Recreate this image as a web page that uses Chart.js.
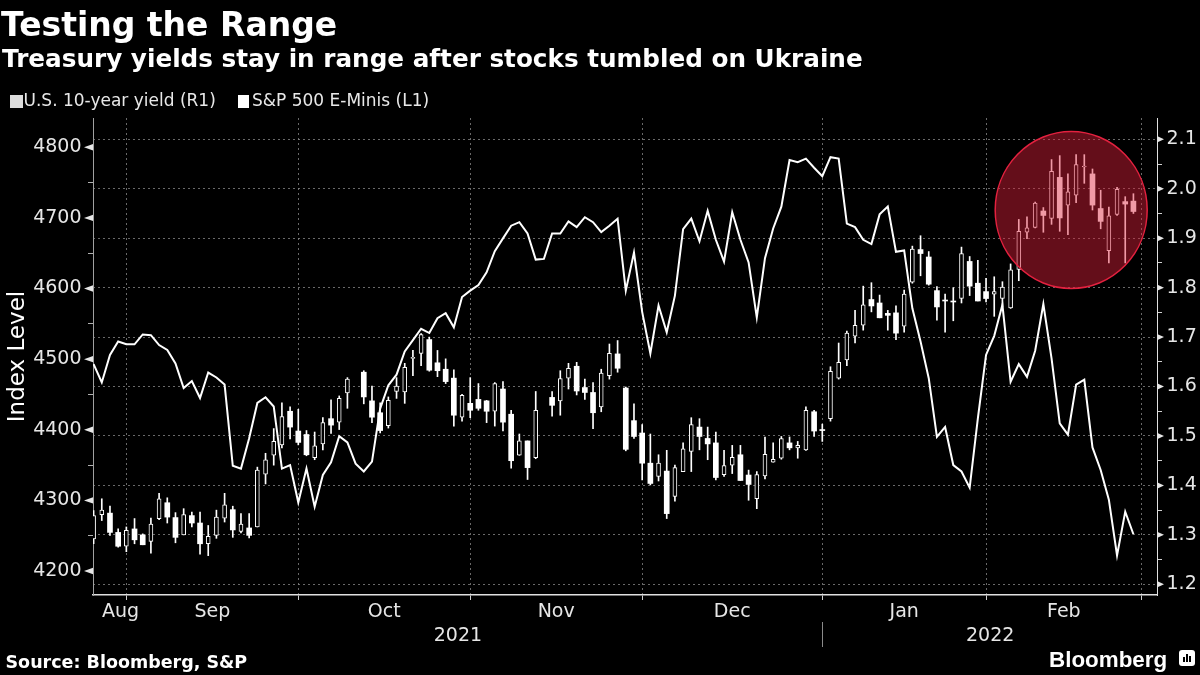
<!DOCTYPE html>
<html>
<head>
<meta charset="utf-8">
<script src="https://cdn.jsdelivr.net/npm/chart.js@4.4.1/dist/chart.umd.min.js"></script>
<style>
  html, body { margin: 0; padding: 0; background: #000; }
  #wrap { position: relative; width: 1200px; height: 675px; background: #000; overflow: hidden;
          font-family: 'DejaVu Sans', sans-serif; color: #fff; }
  #chart { position: absolute; left: 0; top: 0; }
  .txt { position: absolute; white-space: nowrap; }
  .title { left: 1px; top: 8px; font-weight: bold; font-size: 33px; line-height: 33px; }
  .subtitle { left: 2px; top: 47.4px; font-weight: bold; font-size: 24.7px; line-height: 24.7px; }
  .leg { top: 92.3px; font-size: 17px; line-height: 17px; color: #e8e8e8; }
  .sw { position: absolute; }
  .source { left: 5.5px; top: 653.5px; font-weight: bold; font-size: 17.5px; line-height: 17.5px; }
  .logo { left: 1049px; top: 649.3px; font-family: 'Liberation Sans', sans-serif; font-weight: bold;
          font-size: 22.4px; line-height: 22.4px; }
  .icon { position: absolute; left: 1179px; top: 650px; width: 16px; height: 16px; background: #fff; border-radius: 3px; }
  .icon i { position: absolute; bottom: 4px; width: 2px; background: #000; }
</style>
</head>
<body>
<div id="wrap">
  <canvas id="chart" width="1200" height="675"></canvas>
  <div class="txt title">Testing the Range</div>
  <div class="txt subtitle">Treasury yields stay in range after stocks tumbled on Ukraine</div>
  <div class="sw" style="left:9.5px;top:94.5px;width:13px;height:13px;background:#dcdcdc"></div>
  <div class="txt leg" style="left:23.5px">U.S. 10-year yield (R1)</div>
  <div class="sw" style="left:238px;top:94.5px;width:11px;height:13px;background:#fff"></div>
  <div class="txt leg" style="left:252px">S&amp;P 500 E-Minis (L1)</div>
  <div class="txt source">Source: Bloomberg, S&amp;P</div>
  <div class="txt logo">Bloomberg</div>
  <div class="icon"><i style="left:4px;height:5px"></i><i style="left:7px;height:8px"></i><i style="left:10px;height:6px"></i></div>
</div>
<script>
// 10 year yield, daily candles (null = bond market closed)
const yOpen = [1.292,1.341,1.344,1.305,1.277,1.312,1.300,1.287,1.333,1.365,1.335,1.300,1.339,1.324,1.282,1.299,1.334,1.351,1.307,1.314,
  1.316,1.423,1.461,1.482,1.550,1.510,1.503,1.456,1.484,1.535,1.528,1.587,null,1.629,1.571,1.547,1.521,1.590,1.589,1.657,
  1.667,1.695,1.648,1.635,1.617,1.538,1.566,1.574,1.571,1.550,1.595,1.544,1.461,1.490,1.456,null,1.578,1.571,1.617,1.641,
  1.598,1.588,1.559,1.622,1.666,1.597,1.531,1.506,1.445,1.418,1.429,1.378,1.428,1.469,1.518,1.495,1.486,1.422,1.441,1.462,
  1.421,1.373,1.419,1.447,1.455,1.486,1.476,1.472,1.549,1.513,1.535,1.617,1.654,1.702,1.724,1.776,1.769,1.748,1.749,1.722,
  1.811,1.877,1.862,1.794,1.775,1.773,1.778,1.853,1.809,1.792,1.787,1.778,1.759,1.837,1.912,1.922,1.955,1.940,2.023,1.967,
  1.987,2.044,2.030,1.960,1.875,1.948,1.974,1.975];
const yClose = [1.339,1.350,1.305,1.277,1.309,1.290,1.280,1.322,1.373,1.336,1.295,1.341,1.324,1.282,1.297,1.336,1.361,1.310,1.322,1.299,
  1.431,1.452,1.489,1.539,1.518,1.487,1.462,1.480,1.527,1.522,1.576,1.615,null,1.579,1.538,1.511,1.572,1.601,1.639,1.659,
  1.705,1.633,1.632,1.610,1.542,1.582,1.552,1.556,1.550,1.606,1.528,1.450,1.490,1.436,1.552,null,1.562,1.616,1.637,1.591,
  1.588,1.547,1.627,1.667,1.637,1.473,1.499,1.445,1.404,1.445,1.343,1.436,1.474,1.523,1.499,1.484,1.416,1.440,1.457,1.410,
  1.402,1.422,1.463,1.453,1.495,1.476,1.481,1.552,1.510,1.511,1.631,1.649,1.708,1.724,1.765,1.763,1.739,1.744,1.708,1.787,
  1.878,1.869,1.807,1.761,1.773,1.771,1.869,1.803,1.773,1.778,1.792,1.801,1.836,1.914,1.921,1.971,1.946,2.035,1.941,1.994,
  2.049,2.046,1.967,1.934,1.945,1.999,1.969,1.954];
const yHigh = [1.349,1.373,1.358,1.312,1.316,1.333,1.302,1.334,1.384,1.375,1.345,1.353,1.346,1.346,1.319,1.350,1.384,1.358,1.343,1.343,
  1.437,1.465,1.515,1.567,1.559,1.554,1.511,1.508,1.537,1.573,1.581,1.618,null,1.632,1.601,1.567,1.579,1.618,1.647,1.673,
  1.707,1.700,1.673,1.656,1.634,1.584,1.618,1.606,1.572,1.608,1.610,1.552,1.504,1.490,1.590,null,1.590,1.632,1.647,1.649,
  1.615,1.608,1.635,1.686,1.693,1.599,1.565,1.523,1.504,1.462,1.471,1.441,1.486,1.537,1.535,1.518,1.508,1.471,1.481,1.481,
  1.431,1.428,1.498,1.486,1.499,1.498,1.489,1.559,1.552,1.524,1.640,1.688,1.712,1.754,1.803,1.810,1.785,1.754,1.763,1.795,
  1.884,1.905,1.873,1.802,1.787,1.800,1.882,1.863,1.855,1.819,1.822,1.812,1.848,1.938,1.943,1.973,1.962,2.059,2.067,2.030,
  2.069,2.069,2.040,1.997,1.963,2.003,1.984,1.990];
const yLow = [1.282,1.329,1.299,1.275,1.266,1.282,1.280,1.263,1.331,1.324,1.284,1.300,1.316,1.261,1.258,1.293,1.326,1.295,1.304,1.294,
  1.316,1.403,1.441,1.476,1.494,1.482,1.460,1.452,1.472,1.505,1.513,1.556,null,1.565,1.527,1.506,1.516,1.576,1.566,1.622,
  1.642,1.631,1.620,1.606,1.520,1.530,1.537,1.552,1.527,1.520,1.510,1.435,1.461,1.412,1.454,null,1.540,1.542,1.595,1.583,
  1.574,1.515,1.549,1.615,1.629,1.470,1.495,1.411,1.401,1.409,1.333,1.368,1.428,1.428,1.472,1.452,1.411,1.418,1.424,1.410,
  1.370,1.353,1.413,1.447,1.453,1.472,1.455,1.471,1.499,1.489,1.530,1.615,1.642,1.688,1.714,1.751,1.739,1.714,1.695,1.710,
  1.809,1.824,1.805,1.734,1.710,1.733,1.769,1.784,1.773,1.771,1.742,1.761,1.758,1.814,1.899,1.921,1.912,1.928,1.914,1.907,
  1.972,2.011,1.957,1.919,1.850,1.946,1.850,1.950];

// S&P 500 E-Minis, daily close
const spx = [4493,4467,4506,4525,4521,4521,4535,4534,4520,4513,4494,4459,4469,4445,4481,4474,4464,4349,4345,4388,
  4438,4446,4433,4345,4350,4297,4345,4291,4336,4354,4391,4382,4352,4341,4355,4430,4463,4478,4511,4527,
  4543,4537,4558,4565,4545,4588,4597,4605,4623,4653,4671,4689,4694,4678,4641,4642,4678,4678,4695,4687,
  4701,4694,4680,4689,4699,4597,4651,4567,4508,4576,4538,4590,4684,4699,4667,4710,4669,4638,4708,4669,
  4637,4559,4643,4685,4716,4782,4779,4784,4771,4759,4786,4784,4692,4687,4669,4663,4705,4716,4652,4654,
  4572,4525,4473,4390,4404,4350,4341,4318,4416,4506,4533,4577,4468,4493,4475,4512,4578,4501,4409,4393,
  4464,4471,4375,4343,4301,4222,4284,4252];

// x axis: trading-day index; month ends carry ticks, labels sit mid-month
const monthEnds = [4, 25, 46, 67, 89, 109, 128];
const monthPos = [3.3, 14.5, 35.5, 56.5, 78, 99, 118.5];
const monthNames = ['Aug', 'Sep', 'Oct', 'Nov', 'Dec', 'Jan', 'Feb'];
const yearPos = [44.5, 109.5];
const yearNames = ['2021', '2022'];
const yearSplit = 89;

const spxTicks = [4200, 4250, 4300, 4350, 4400, 4450, 4500, 4550, 4600, 4650, 4700, 4750, 4800];
const yieldTicks = [1.2, 1.25, 1.3, 1.35, 1.4, 1.45, 1.5, 1.55, 1.6, 1.65, 1.7, 1.75, 1.8, 1.85, 1.9, 1.95, 2.0, 2.05, 2.1];

const upBodies = [], downBodies = [], wicks = [];
yOpen.forEach((o, i) => {
  if (o === null) return;
  wicks.push({x: i, y: [yLow[i], yHigh[i]]});
  if (yClose[i] >= o) upBodies.push({x: i, y: [o, yClose[i]]});
  else downBodies.push({x: i, y: [o, yClose[i]]});
});

const X_MIN = -0.073, X_MAX = 129.88;
const grey = 'rgba(140,140,140,0.75)';
const tickTxt = '#e6e6e6';
const isMajorYield = v => Math.round(v * 100) % 10 === 0;

Chart.defaults.font.family = "'DejaVu Sans', sans-serif";

// triangles on the value axes, year divider
const axisMarks = {
  id: 'axisMarks',
  afterDraw(chart) {
    const {ctx, chartArea} = chart;
    const yl = chart.scales.y, yr = chart.scales.y1, x = chart.scales.x;
    ctx.save();
    ctx.fillStyle = '#e6e6e6';
    spxTicks.filter(v => v % 100 === 0).forEach(v => {
      const py = yl.getPixelForValue(v);
      ctx.beginPath();
      ctx.moveTo(chartArea.left - 9, py);
      ctx.lineTo(chartArea.left, py - 3.2);
      ctx.lineTo(chartArea.left, py + 3.2);
      ctx.closePath();
      ctx.fill();
    });
    yieldTicks.filter(isMajorYield).forEach(v => {
      const py = yr.getPixelForValue(v);
      ctx.beginPath();
      ctx.moveTo(chartArea.right + 7, py);
      ctx.lineTo(chartArea.right, py - 3.2);
      ctx.lineTo(chartArea.right, py + 3.2);
      ctx.closePath();
      ctx.fill();
    });
    const px = Math.round(x.getPixelForValue(yearSplit)) + 0.5;
    ctx.strokeStyle = '#8a8a8a';
    ctx.lineWidth = 1;
    ctx.beginPath();
    ctx.moveTo(px, 622);
    ctx.lineTo(px, 647);
    ctx.stroke();
    ctx.restore();
  }
};

// red highlight round the February candles
const highlight = {
  id: 'highlight',
  afterDatasetsDraw(chart) {
    const {ctx} = chart;
    const cx = chart.scales.x.getPixelForValue(119.4);
    const cy = chart.scales.y1.getPixelForValue(1.957);
    ctx.save();
    ctx.beginPath();
    ctx.ellipse(cx, cy, 76, 78.5, 0, 0, Math.PI * 2);
    ctx.fillStyle = 'rgba(222,31,58,0.45)';
    ctx.fill();
    ctx.strokeStyle = '#e3213f';
    ctx.lineWidth = 1.5;
    ctx.stroke();
    ctx.restore();
  }
};

const chart = new Chart(document.getElementById('chart'), {
  type: 'bar',
  data: {
    datasets: [
      {
        type: 'line',
        label: 'S&P 500 E-Minis (L1)',
        data: spx.map((v, i) => ({x: i, y: v})),
        xAxisID: 'x', yAxisID: 'y',
        borderColor: '#ffffff', borderWidth: 2,
        pointRadius: 0, tension: 0, fill: false,
        order: 0
      },
      {
        label: 'U.S. 10-year yield up',
        data: upBodies,
        xAxisID: 'x', yAxisID: 'y1',
        backgroundColor: '#000000', borderColor: '#ffffff', borderWidth: 1,
        borderSkipped: false, barThickness: 4, grouped: false,
        order: 1
      },
      {
        label: 'U.S. 10-year yield down',
        data: downBodies,
        xAxisID: 'x', yAxisID: 'y1',
        backgroundColor: '#ffffff', borderWidth: 0,
        borderSkipped: false, barThickness: 5, grouped: false,
        order: 1
      },
      {
        label: 'range',
        data: wicks,
        xAxisID: 'x', yAxisID: 'y1',
        backgroundColor: '#ffffff', borderWidth: 0,
        borderSkipped: false, barThickness: 1, grouped: false,
        order: 2
      }
    ]
  },
  options: {
    responsive: false,
    animation: false,
    layout: { padding: { top: 118, bottom: 23, left: 0, right: 0 } },
    plugins: { legend: { display: false }, tooltip: { enabled: false } },
    scales: {
      x: {
        type: 'linear', position: 'bottom', min: X_MIN, max: X_MAX, offset: false, weight: 0,
        afterBuildTicks: s => { s.ticks = monthEnds.map(v => ({value: v})); },
        afterFit: s => { s.height = 5; },
        grid: { offset: false, color: grey, lineWidth: 1, drawTicks: true, tickLength: 5, tickColor: '#d0d0d0', tickWidth: 1 },
        border: { display: true, color: '#e0e0e0', width: 1.5, dash: [2, 3] },
        ticks: { display: false, autoSkip: false }
      },
      xm: {
        type: 'linear', axis: 'x', position: 'bottom', min: X_MIN, max: X_MAX, offset: false, weight: 1,
        afterBuildTicks: s => { s.ticks = monthPos.map(v => ({value: v})); },
        afterFit: s => { s.height = 24; },
        grid: { display: false, offset: false },
        border: { display: false },
        ticks: { callback: (v, i) => monthNames[i], autoSkip: false, maxRotation: 0, minRotation: 0,
                 color: tickTxt, font: { size: 19 }, padding: -7 }
      },
      xy: {
        type: 'linear', axis: 'x', position: 'bottom', min: X_MIN, max: X_MAX, offset: false, weight: 2,
        afterBuildTicks: s => { s.ticks = yearPos.map(v => ({value: v})); },
        afterFit: s => { s.height = 28; },
        grid: { display: false, offset: false },
        border: { display: false },
        ticks: { callback: (v, i) => yearNames[i], autoSkip: false, maxRotation: 0, minRotation: 0,
                 color: tickTxt, font: { size: 19 }, padding: -7 }
      },
      y: {
        type: 'linear', position: 'left', min: 4166, max: 4841.5,
        afterBuildTicks: s => { s.ticks = spxTicks.map(v => ({value: v})); },
        afterFit: s => { s.width = 93; },
        grid: { drawOnChartArea: false, drawTicks: true, tickLength: 5, tickColor: '#b0b0b0', tickWidth: 1 },
        border: { display: true, color: '#a0a0a0', width: 1 },
        ticks: { callback: v => (v % 100 === 0 ? v : ''), autoSkip: false, padding: 6.5,
                 color: tickTxt, font: { size: 19 } },
        title: { display: true, text: 'Index Level', color: '#ffffff', font: { size: 23 }, padding: { top: 4, bottom: 4 } }
      },
      y1: {
        type: 'linear', position: 'right', min: 1.1784, max: 2.1431,
        afterBuildTicks: s => { s.ticks = yieldTicks.map(v => ({value: v})); },
        afterFit: s => { s.width = 43; },
        grid: {
          drawOnChartArea: true, drawTicks: true, tickLength: 5, tickColor: '#d0d0d0', tickWidth: 1, lineWidth: 1,
          color: ctx => (ctx.tick && isMajorYield(ctx.tick.value) ? grey : 'rgba(0,0,0,0)')
        },
        border: { display: true, color: '#e0e0e0', width: 1, dash: [2, 3] },
        ticks: { callback: v => (isMajorYield(v) ? v.toFixed(1) : ''), autoSkip: false, padding: 4.5,
                 color: tickTxt, font: { size: 19 } }
      }
    }
  },
  plugins: [highlight, axisMarks]
});
</script>
</body>
</html>
